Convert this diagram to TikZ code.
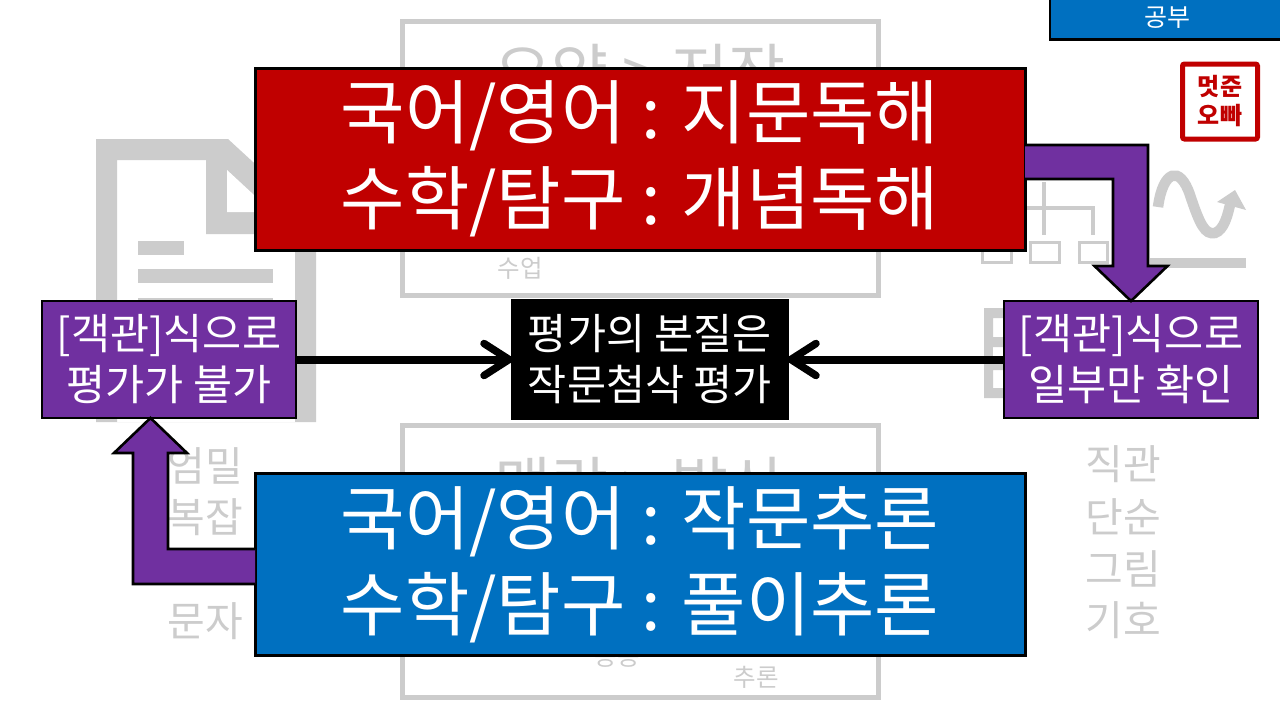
\documentclass[tikz,border=0pt]{standalone}
\usepackage{fontspec}
\setmainfont{Noto Sans CJK KR}
\usetikzlibrary{calc}
\definecolor{gr}{HTML}{CCCCCC}
\definecolor{redb}{HTML}{C00000}
\definecolor{blueb}{HTML}{0070C0}
\definecolor{purp}{HTML}{7030A0}
\tikzset{
  ghost/.style={text=gr,align=center,inner sep=0pt,font=\fontsize{#1}{#1}\selectfont},
  bigbox/.style={draw=black,line width=3pt,fill=#1,text=white,align=center,inner sep=0pt,outer sep=0pt,minimum width=770pt,minimum height=182pt,font=\fontsize{70}{86}\selectfont},
  midbox/.style={draw=black,line width=2.5pt,fill=#1,text=white,align=center,inner sep=0pt,outer sep=0pt,minimum height=117pt,font=\fontsize{42.5}{51}\selectfont},
  fatarrow/.style={draw=black,line width=2.6pt,fill=purp,miter limit=10},
  flowline/.style={draw=black,line width=8pt},
  headline/.style={draw=black,line width=7.5pt,line cap=round,line join=miter},
  grayline/.style={draw=gr,line width=#1}
}
\begin{document}
\begin{tikzpicture}[x=1pt,y=-1pt]
\useasboundingbox (0,0) rectangle (1280,720);
\fill[white] (0,0) rectangle (1280,720);
% ghost background: document icon
\fill[gr,even odd rule] (96,139) -- (228,139) -- (316,220) -- (316,422) -- (96,422) -- cycle
  (117,160) -- (206,160) -- (206,234) -- (295,234) -- (295,422) -- (117,422) -- cycle;
\fill[white] (227,170) -- (254,195) -- (254,212) -- (227,212) -- cycle;
\fill[gr] (138,241) rectangle (184,255);
\fill[gr] (138,269) rectangle (273,283);
\fill[gr] (138,298) rectangle (273,312);
% ghost frames
\draw[grayline=5pt] (402,21.5) rectangle (878,295);
\draw[grayline=5pt] (402,425) rectangle (878,697);
\node[ghost=62] (gt1) at (640,72) {요약 > 저장};
\node[ghost=62] (gt2) at (640,485) {맥락 > 발산};
\node[ghost=24.5] (gt3) at (520,268) {수업};
\node[ghost=24.5] (gt4) at (617,657) {응용};
\node[ghost=24.5] (gt5) at (756,677) {추론};
% ghost org chart
\draw[grayline=3.5pt] (1044,182) -- (1044,235);
\draw[grayline=3.5pt] (1000,208) -- (1093,208) -- (1093,235);
\draw[grayline=3pt] (982,242) rectangle (1011,262);
\draw[grayline=3pt] (1030,242) rectangle (1059,262);
\draw[grayline=3pt] (1079,242) rectangle (1107,262);
% ghost curve
\draw[grayline=10.5pt] (1158,207) .. controls (1163,170) and (1180,165) .. (1190,195)
  .. controls (1200,225) and (1205,235) .. (1215,233) .. controls (1224,230) and (1228,215) .. (1231,200);
\fill[gr] (1235,190) -- (1246,210) -- (1217,202) -- cycle;
\fill[gr] (1150,258) rectangle (1246,268);
% ghost block
\fill[gr,even odd rule] (984,308) rectangle (1006,347) (993,318) rectangle (1006,337);
\fill[gr,even odd rule] (984,356) rectangle (1006,398) (993,370) rectangle (1006,388);
\fill[gr] (984,347) rectangle (993,356);
% ghost texts
\node[ghost=41] (gl1) at (205,466) {엄밀};
\node[ghost=41] (gl2) at (205,517) {복잡};
\node[ghost=41] (gl4) at (205,621) {문자};
\node[ghost=41] (gr1) at (1123,464) {직관};
\node[ghost=41] (gr2) at (1123,517) {단순};
\node[ghost=41] (gr3) at (1123,569) {그림};
\node[ghost=41] (gr4) at (1123,620) {기호};
% main boxes
\node[midbox=purp,minimum width=254pt] (objL) at (169,359.5) {[객관]식으로\\평가가 불가};
\node[midbox=purp,minimum width=254pt] (objR) at (1131,359.5) {[객관]식으로\\일부만 확인};
\node[midbox=black,minimum width=276pt,minimum height=119pt] (core) at (650,359.5) {평가의 본질은\\작문첨삭 평가};
% connectors
\draw[flowline] (objL.east) -- ($(core.west)+(-6,0)$);
\draw[flowline] (objR.west) -- ($(core.east)+(6,0)$);
\draw[headline] ($(core.west)+(-28,-16)$) -- ($(core.west)+(-3,0)$) -- ($(core.west)+(-28,16)$);
\draw[headline] ($(core.east)+(28,-16)$) -- ($(core.east)+(3,0)$) -- ($(core.east)+(28,16)$);
\node[bigbox=redb] (red) at (640,159) {국어/영어 : 지문독해\\수학/탐구 : 개념독해};
\node[bigbox=blueb] (blue) at (640,564.5) {국어/영어 : 작문추론\\수학/탐구 : 풀이추론};
% bent arrows
\draw[fatarrow] (red.east |- 0,145) -- (1148,145) -- (1148,266) -- (1167.5,266)
  -- (objR.north) -- (1094.5,266) -- (1113,266) -- (1113,179) -- (red.east |- 0,179);
\draw[fatarrow] (blue.west |- 0,549) -- (168,549) -- (168,453) -- (187,453)
  -- ($(objL.south)+(-18.5,0)$) -- (114,453) -- (133,453) -- (133,584) -- (blue.west |- 0,584);
% corner labels
\node[draw=black,line width=2.5pt,fill=blueb,text=white,inner sep=0pt,outer sep=0pt,minimum width=234pt,minimum height=43pt,font=\fontsize{25}{25}\selectfont] (tag) at (1167,18) {\raisebox{-3.5pt}{공부}};
\node[draw=redb,line width=5pt,fill=white,text=redb,rounded corners=2pt,align=center,inner sep=0pt,minimum width=75pt,minimum height=75pt,font=\fontsize{24}{29}\selectfont\bfseries] (logo) at (1220,101.5) {멋준\\오빠};
\end{tikzpicture}
\end{document}
